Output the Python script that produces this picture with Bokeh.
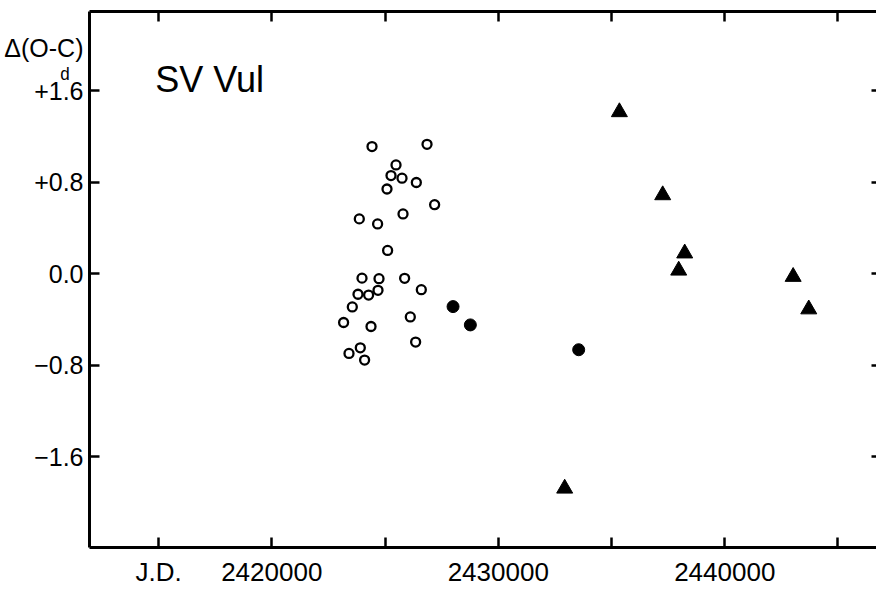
from bokeh.plotting import figure
from bokeh.models import Range1d, FixedTicker, LinearAxis, Label
from bokeh.embed import file_html
from bokeh.resources import INLINE

# ---- data ----
jd_open = [2424426, 2426855, 2425486, 2425265, 2425751, 2426383, 2425088, 2427191,
           2423865, 2424673, 2425795, 2425115, 2423984, 2424735, 2425866, 2426603,
           2423807, 2424276, 2424691, 2423556, 2423171, 2424382, 2426117, 2426352,
           2423909, 2423410, 2424099]
doc_open = [1.113, 1.133, 0.953, 0.860, 0.837, 0.799, 0.742, 0.605,
            0.481, 0.437, 0.524, 0.205, -0.037, -0.042, -0.039, -0.138,
            -0.178, -0.185, -0.144, -0.289, -0.425, -0.460, -0.376, -0.596,
            -0.646, -0.695, -0.753]

jd_filled = [2428004, 2428768, 2433551]
doc_filled = [-0.286, -0.446, -0.663]

jd_tri = [2432933, 2435349, 2437261, 2438233, 2437968, 2443021, 2443710]
doc_tri = [-1.876, 1.415, 0.689, 0.180, 0.030, -0.025, -0.309]

x_ticks = [2415000, 2420000, 2425000, 2430000, 2435000, 2440000, 2445000]
x_tick_labels = ["J.D.", "2420000", "", "2430000", "", "2440000", ""]
y_ticks = [-1.6, -0.8, 0.0, 0.8, 1.6]
y_tick_labels = ["\u22121.6", "\u22120.8", "0.0", "+0.8", "+1.6"]
y_title = "\u0394(O-C)"
y_unit = "\u1d48"

FONT = "Liberation Sans"

p = figure(width=876, height=589,
           x_range=Range1d(2411952, 2446701), y_range=Range1d(-2.392, 2.294),
           output_backend="svg", toolbar_location=None,
           min_border_left=89, min_border_right=0, min_border_top=11, min_border_bottom=40,
           background_fill_color="white", border_fill_color="white")
p.outline_line_color = None
p.xgrid.visible = False
p.ygrid.visible = False

xt = FixedTicker(ticks=x_ticks)
yt = FixedTicker(ticks=y_ticks)

def style_line_axis(ax):
    ax.axis_line_width = 3
    ax.axis_line_color = "black"
    ax.major_tick_line_width = 2.5
    ax.major_tick_line_color = "black"
    ax.major_tick_in = 10
    ax.major_tick_out = 0
    ax.minor_tick_line_color = None

# bottom axis: line, ticks and labels
xax = p.xaxis[0]
xax.ticker = xt
style_line_axis(xax)
xax.major_label_overrides = dict(zip(x_ticks, x_tick_labels))
xax.major_label_text_font = FONT
xax.major_label_text_font_size = "26px"
xax.major_label_text_color = "black"
xax.major_label_standoff = 9

# left axis (nearest the frame): line and ticks only
yax = p.yaxis[0]
yax.ticker = yt
style_line_axis(yax)
yax.major_label_overrides = {t: "" for t in y_ticks}
yax.major_label_text_font_size = "0px"
yax.major_label_standoff = 0

# second left axis: the texts only
lab_ticks = y_ticks + [1.972, 1.72]
lab_texts = y_tick_labels + [y_title, y_unit + "\u00a0\u00a0"]
lab_axis = LinearAxis(ticker=FixedTicker(ticks=lab_ticks),
                      axis_line_color=None, major_tick_line_color=None,
                      minor_tick_line_color=None, major_tick_in=0, major_tick_out=0,
                      major_label_standoff=6, major_label_text_font=FONT,
                      major_label_text_font_size="25px", major_label_text_color="black")
lab_axis.major_label_overrides = dict(zip(lab_ticks, lab_texts))
p.add_layout(lab_axis, "left")

top = LinearAxis(ticker=xt)
style_line_axis(top)
top.major_label_overrides = {t: "" for t in x_ticks}
top.major_label_text_font_size = "0px"
top.major_label_standoff = 0
p.add_layout(top, "above")

right = LinearAxis(ticker=yt, axis_line_color=None,
                   major_tick_line_width=2.5, major_tick_in=5, major_tick_out=0,
                   minor_tick_line_color=None, major_label_text_font_size="0px",
                   major_label_standoff=0)
right.major_label_overrides = {t: "" for t in y_ticks}
p.add_layout(right, "right")

# ---- marks ----
p.scatter(jd_open, doc_open, marker="circle", size=9, fill_color="white",
          line_color="black", line_width=2.3)
p.scatter(jd_filled, doc_filled, marker="circle", size=12, fill_color="black",
          line_color="black")
p.scatter(jd_tri, doc_tri, marker="triangle", size=16, fill_color="black",
          line_color="black")

# ---- star name ----
p.add_layout(Label(x=2414854, y=1.697, text="SV Vul", text_align="left",
                   text_baseline="middle", text_font=FONT,
                   text_font_size="36px", text_color="black"))

open("out.html", "w").write(file_html(p, INLINE))
